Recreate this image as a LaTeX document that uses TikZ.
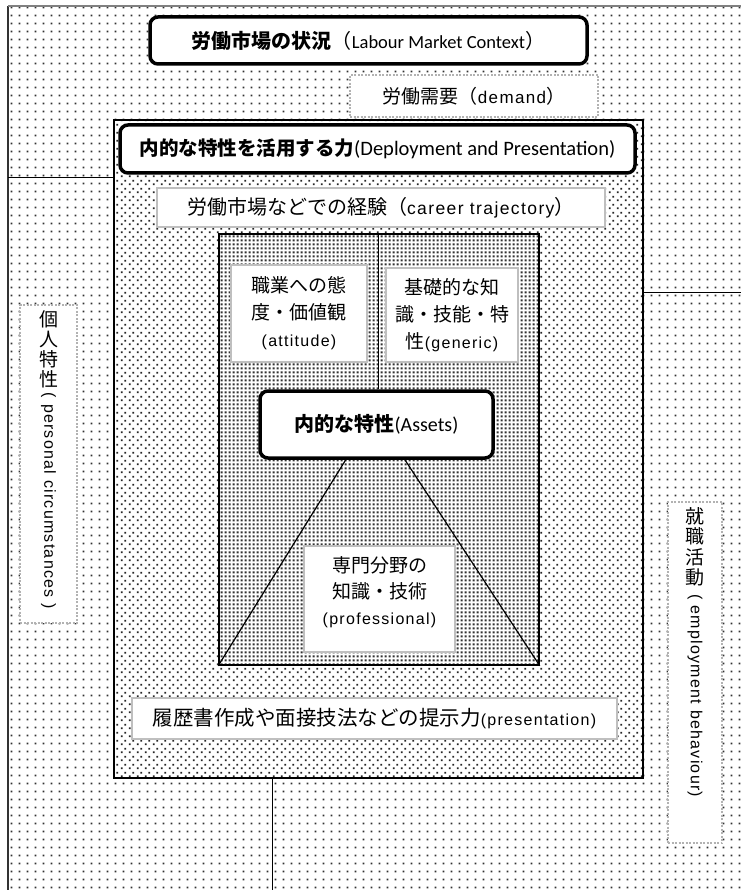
\documentclass[tikz,border=0pt]{standalone}
\usepackage{fontspec}
\setmainfont{Carlito}
\newfontfamily\cjkfont{Noto Sans CJK JP}
\newfontfamily\latfont[LetterSpace=8]{Liberation Sans}
\usetikzlibrary{patterns.meta,calc}
\newcommand\myjp[1]{{\cjkfont #1}}
\newcommand\myjpb[1]{{\cjkfont\bfseries #1}}
\newcommand\mylat[1]{{\latfont\fontsize{16}{19}\selectfont #1}}

\tikzdeclarepattern{name=outerdots, type=uncolored,
  bottom left={(0pt,0pt)}, top right={(8pt,8pt)}, tile size={(8pt,8pt)},
  code={\fill (3pt,3pt) rectangle (4.8pt,4.8pt);}}
\tikzdeclarepattern{name=innerdots, type=uncolored,
  bottom left={(0pt,0pt)}, top right={(8pt,8pt)}, tile size={(8pt,8pt)},
  code={\fill (1pt,1pt) rectangle (2.9pt,2.9pt); \fill (5pt,5pt) rectangle (6.9pt,6.9pt);}}
\tikzdeclarepattern{name=darkdots, type=uncolored,
  bottom left={(0pt,0pt)}, top right={(4pt,4pt)}, tile size={(4pt,4pt)},
  code={\fill (0.7pt,0.7pt) rectangle (3.3pt,3.3pt);}}

\tikzset{
  boldbox/.style={draw=black, line width=3.5pt, rounded corners=8pt, fill=white, inner sep=0pt},
  graybox/.style={draw=black!25, line width=2.6pt, fill=white, inner sep=0pt},
  thingray/.style={draw=black!25, line width=2pt, fill=white, inner sep=0pt},
  dotbox/.style={draw=black!30, line width=2pt, dash pattern=on 2pt off 1.5pt, fill=white, inner sep=0pt},
  connector/.style={draw=black, line width=1pt},
}

\begin{document}
\begin{tikzpicture}[x=1pt,y=-1pt]
\useasboundingbox (0,0) rectangle (741,890);
\fill[white] (0,0) rectangle (741,890);
\fill[pattern=outerdots, pattern color=black!80] (8,6) rectangle (741,890);
\draw[line width=1.8pt, black!80] (8,890) -- (8,6);
\draw[line width=1.3pt, black!50] (8,6) -- (741,6);

% inner frame
\node[draw=black, line width=1.3pt, preaction={fill=white}, pattern=innerdots, pattern color=black!85,
      minimum width=529pt, minimum height=658pt, inner sep=0pt] (inner) at (378.5,449) {};

% connectors to the edges
\coordinate (lefttick) at (8,178);
\coordinate (rightend) at (741,292);
\coordinate (bottomend) at (272,890);
\draw[connector] (lefttick) -- (lefttick -| inner.west);
\draw[connector] (rightend -| inner.east) -- (rightend);
\draw[connector] (bottomend |- inner.south) -- (bottomend);

% dark box
\node[draw=black, line width=1.5pt, preaction={fill=white}, pattern=darkdots, pattern color=black!80,
      minimum width=320pt, minimum height=431pt, inner sep=0pt] (dark) at (379,449.5) {};

% title
\node[boldbox, minimum width=437pt, minimum height=47pt, font=\fontsize{20}{24}\selectfont] (title) at (368.5,40.5)
  {\myjpb{労働市場の状況}\myjp{（}{\fontsize{18.5}{22}\selectfont Labour Market Context}\myjp{）}};

% demand
\node[dotbox, minimum width=248pt, minimum height=42pt, font=\fontsize{19}{23}\selectfont] (demand) at (474,96)
  {\myjp{労働需要（}{\latfont\fontsize{17}{20}\selectfont demand}\myjp{）}};

% deployment
\node[boldbox, minimum width=515pt, minimum height=48pt, font=\fontsize{19.5}{23}\selectfont] (deploy) at (377.5,149)
  {\myjpb{内的な特性を活用する力}{\fontsize{20.5}{24}\selectfont(Deployment and Presentation)}};

% career
\node[graybox, minimum width=448pt, minimum height=39pt, font=\fontsize{20}{24}\selectfont] (career) at (381,207.5)
  {\myjp{労働市場などでの経験（}{\latfont\fontsize{17.5}{20}\selectfont career trajectory}\myjp{）}};

% assets with divider and diagonals
\node[boldbox, minimum width=233pt, minimum height=67pt, font=\fontsize{20}{24}\selectfont] (assets) at (376.5,424.5)
  {\myjpb{内的な特性}(Assets)};
\draw[connector] (dark.north -| 378,0) -- (assets.north -| 378,0);
\draw[connector, line width=1.2pt] ($(assets.south west)!0.37!(assets.south east)$) -- (dark.south west);
\draw[connector, line width=1.2pt] ($(assets.south west)!0.62!(assets.south east)$) -- (dark.south east);

% attitude / generic
\node[thingray, minimum width=136pt, minimum height=97pt, align=center, font=\cjkfont\fontsize{19}{27}\selectfont] (attitude) at (299,313.5)
  {職業への態\\度・価値観\\\mylat{(attitude)}};
\node[thingray, minimum width=132pt, minimum height=94pt, align=center, font=\cjkfont\fontsize{19}{27}\selectfont] (generic) at (452,315)
  {基礎的な知\\識・技能・特\\性\mylat{(generic)}};

% professional
\node[thingray, minimum width=151pt, minimum height=106pt] (prof) at (379.5,599) {};
\node[align=center, inner sep=0pt, font=\cjkfont\fontsize{19}{26}\selectfont] (proftext) at ([yshift=7pt]prof.center)
  {専門分野の\\知識・技術\\\mylat{(professional)}};

% presentation
\node[graybox, minimum width=485pt, minimum height=41pt, font=\fontsize{20.5}{24}\selectfont] (present) at (374.5,718.5)
  {\myjp{履歴書作成や面接技法などの提示力}\mylat{(presentation)}};

% left vertical box
\node[dotbox, minimum width=57pt, minimum height=318pt] (leftbox) at (48.5,464) {};
\node[anchor=north, align=center, inner sep=0pt, font=\cjkfont\fontsize{19}{20}\selectfont] (lefttxt) at ([yshift=-6pt]leftbox.north)
  {個\\人\\特\\性};
\node[rotate=-90, anchor=west, inner sep=0pt] (leftlat) at ([yshift=-5pt]lefttxt.south)
  {\mylat{( personal circumstances )}};

% right vertical box
\node[dotbox, minimum width=54pt, minimum height=341pt] (rightbox) at (695,672.5) {};
\node[anchor=north, align=center, inner sep=0pt, font=\cjkfont\fontsize{19}{20.5}\selectfont] (righttxt) at ([yshift=-6pt]rightbox.north)
  {就\\職\\活\\動};
\node[rotate=-90, anchor=west, inner sep=0pt] (rightlat) at ([yshift=-8pt]righttxt.south)
  {\mylat{( employment behaviour)}};
\end{tikzpicture}
\end{document}
